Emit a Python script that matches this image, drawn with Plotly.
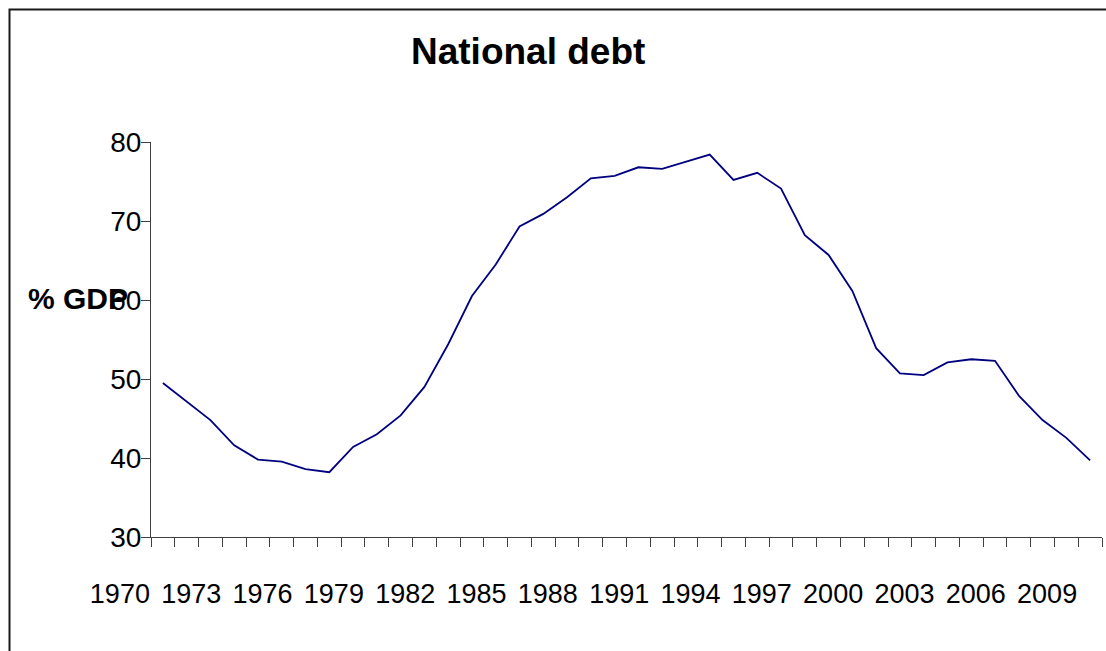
import plotly.graph_objects as go

years = list(range(1970, 2010))
debt_pct_gdp = [49.5, 47.2, 44.8, 41.6, 39.8, 39.55, 38.6, 38.2, 41.4, 43.0,
                45.4, 49.0, 54.4, 60.5, 64.5, 69.3, 70.9, 73.0, 75.4, 75.7,
                76.8, 76.6, 77.5, 78.4, 75.2, 76.1, 74.1, 68.2, 65.7, 61.15,
                53.9, 50.7, 50.5, 52.1, 52.5, 52.3, 47.9, 44.8, 42.55, 39.7]
label_years = years[::3]
y_ticks = [30, 40, 50, 60, 70, 80]
title_text = "National debt"
y_title = "% GDP"

W, H = 1106, 651
L, R, T, B = 151, 4, 142, 114
pw, ph = W - L - R, H - T - B

def px_x(p):
    return (p - L) / pw

def px_y(p):
    return (H - B - p) / ph

fig = go.Figure()
fig.add_trace(go.Scatter(x=years, y=debt_pct_gdp, mode="lines",
                         line=dict(color="#000080", width=1.8),
                         hoverinfo="x+y", showlegend=False))

fig.update_layout(
    width=W, height=H,
    margin=dict(l=L, r=R, t=T, b=B, pad=0),
    paper_bgcolor="white", plot_bgcolor="white",
    font=dict(family="Liberation Sans, Arial, sans-serif", color="black"),
    showlegend=False,
)

fig.update_xaxes(
    range=[years[0] - 0.5, years[-1] + 0.5],
    tickmode="array", tickvals=label_years, ticktext=[str(y) for y in label_years],
    ticks="", ticklen=0, showgrid=False, zeroline=False,
    showline=True, linecolor="#404040", linewidth=1.2,
    tickfont=dict(size=27), ticklabelshift=-43, ticklabelstandoff=32,
    minor=dict(tickmode="array", tickvals=[y - 0.5 for y in years] + [years[-1] + 0.5],
               ticks="outside", ticklen=9, tickcolor="#404040", tickwidth=1.2,
               showgrid=False),
)
fig.update_yaxes(
    range=[y_ticks[0], y_ticks[-1]], tickmode="array", tickvals=y_ticks,
    ticks="outside", ticklen=9, tickcolor="#404040", tickwidth=1.2,
    showgrid=False, zeroline=False,
    showline=True, linecolor="#404040", linewidth=1.2,
    tickfont=dict(size=28), ticklabelstandoff=-6,
)

fig.add_annotation(text="<b>" + title_text + "</b>", xref="paper", yref="paper",
                   x=px_x(527.5), y=px_y(51), xanchor="center", yanchor="middle",
                   showarrow=False, font=dict(size=37, color="black"))
fig.add_annotation(text="<b>" + y_title + "</b>", xref="paper", yref="paper",
                   x=px_x(26), y=px_y(298), xanchor="left", yanchor="middle",
                   showarrow=False, font=dict(size=30, color="black"))

fig.add_shape(type="rect", xref="paper", yref="paper",
              x0=px_x(9.5), y0=px_y(700), x1=px_x(1150), y1=px_y(9.5),
              line=dict(color="#1a1a1a", width=2), layer="above")

fig.write_html("out.html")
